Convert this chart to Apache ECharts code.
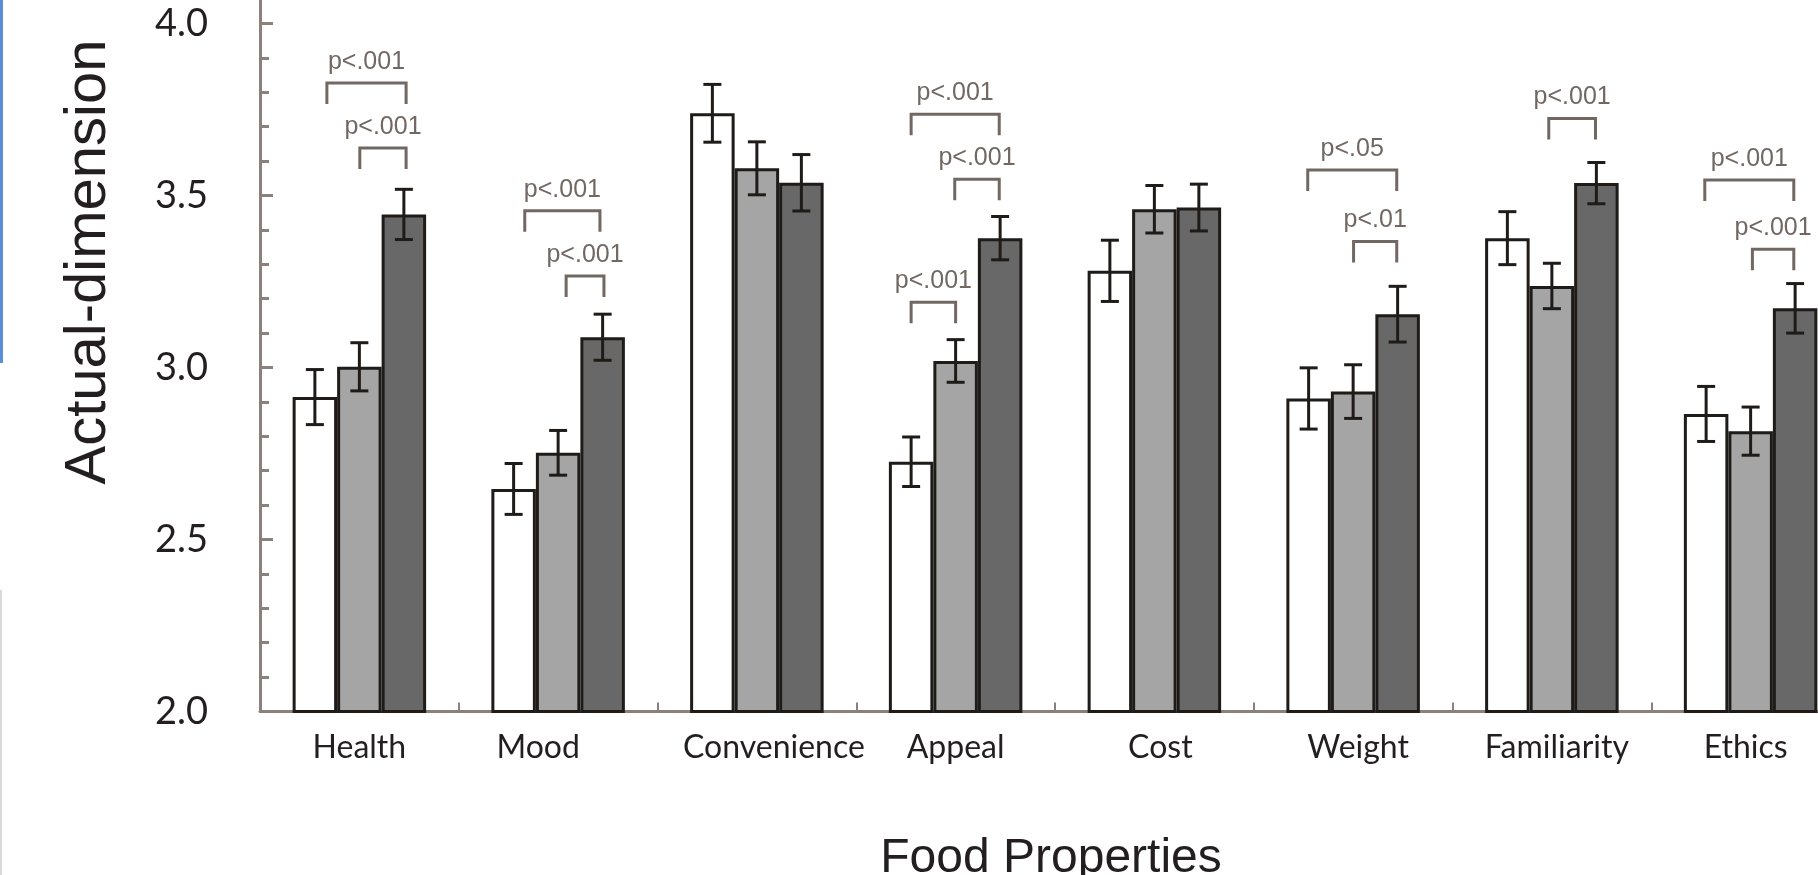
<!DOCTYPE html>
<html>
<head>
<meta charset="utf-8">
<script src="https://cdn.jsdelivr.net/npm/echarts@6/dist/echarts.min.js"></script>
<style>
html, body { margin: 0; padding: 0; background: #fff; overflow: hidden; width: 1818px; height: 875px; }
/* the plot runs past the right and top edges of the picture, so the canvas is bigger than the window */
#divChart { position: absolute; left: 0; top: -20px; width: 1880px; height: 895px; }
</style>
</head>
<body>
<div id="divChart"></div>
<script>
var categories = ['Health', 'Mood', 'Convenience', 'Appeal', 'Cost', 'Weight', 'Familiarity', 'Ethics'];

// three groups, left to right inside each category
var lowVals  = [2.914, 2.647, 3.739, 2.726, 3.281, 2.910, 3.376, 2.865];
var lowErr   = [0.080, 0.074, 0.084, 0.072, 0.089, 0.089, 0.077, 0.080];
var midVals  = [3.002, 2.752, 3.579, 3.019, 3.460, 2.930, 3.237, 2.815];
var midErr   = [0.070, 0.065, 0.077, 0.062, 0.069, 0.078, 0.066, 0.070];
var highVals = [3.445, 3.088, 3.537, 3.376, 3.465, 3.155, 3.536, 3.172];
var highErr  = [0.073, 0.067, 0.082, 0.063, 0.068, 0.081, 0.060, 0.072];

// significance brackets: category, from bar, to bar, height, text
var bracketCat  = [0, 0, 1, 1, 3, 3, 3, 5, 5, 6, 7, 7];
var bracketFrom = [0.27, 1.01, 0.25, 1.18, 0.0, 0.98, 0.0, -0.02, 1.01, 0.93, -0.03, 1.04];
var bracketTo   = [2.05, 2.05, 1.94, 2.03, 1.98, 1.98, 1.0, 1.98, 1.98, 1.98, 1.97, 1.97];
var bracketY    = [3.827, 3.638, 3.456, 3.266, 3.736, 3.547, 3.190, 3.574, 3.366, 3.724, 3.545, 3.344];
var bracketText = ['p<.001', 'p<.001', 'p<.001', 'p<.001', 'p<.001', 'p<.001', 'p<.001', 'p<.05', 'p<.01', 'p<.001', 'p<.001', 'p<.001'];

var SHIFT = 20;   // canvas starts 20px above the page
var BAR_W = 44.5;
var CAP = 9;
var INK = '#1e1b18';
var AXIS = '#8a807c';
var NOTE = '#716864';

// a couple of category labels sit off-centre in the original
var labelNudge = { 'Mood': -20, 'Convenience': 17, 'Cost': 6, 'Weight': 5, 'Familiarity': 5, 'Ethics': -5 };

var myChart = echarts.init(document.getElementById('divChart'));

function barSeries(name, vals, color) {
    return {
        name: name,
        type: 'bar',
        barWidth: BAR_W,
        barGap: '0%',
        data: vals,
        itemStyle: { color: color, borderColor: INK, borderWidth: 3 },
        emphasis: { disabled: true }
    };
}

function errorSeries(slot, vals, errs) {
    var data = [];
    for (var i = 0; i < vals.length; i++) {
        data.push([i, vals[i] - errs[i], vals[i] + errs[i]]);
    }
    return {
        type: 'custom',
        z: 5,
        encode: { x: 0, y: [1, 2] },
        data: data,
        renderItem: function (params, api) {
            var lo = api.coord([api.value(0), api.value(1)]);
            var hi = api.coord([api.value(0), api.value(2)]);
            var x = lo[0] + (slot - 1) * BAR_W;
            var st = { stroke: INK, lineWidth: 3 };
            return {
                type: 'group',
                children: [
                    { type: 'line', shape: { x1: x, y1: lo[1], x2: x, y2: hi[1] }, style: st },
                    { type: 'line', shape: { x1: x - CAP, y1: lo[1], x2: x + CAP, y2: lo[1] }, style: st },
                    { type: 'line', shape: { x1: x - CAP, y1: hi[1], x2: x + CAP, y2: hi[1] }, style: st }
                ]
            };
        }
    };
}

function bracketSeries() {
    var data = [];
    for (var i = 0; i < bracketCat.length; i++) {
        data.push([bracketCat[i], bracketY[i], bracketFrom[i], bracketTo[i], bracketText[i]]);
    }
    return {
        type: 'custom',
        z: 6,
        encode: { x: 0, y: 1 },
        data: data,
        renderItem: function (params, api) {
            var p = api.coord([api.value(0), api.value(1)]);
            var x1 = p[0] + (api.value(2) - 1) * BAR_W;
            var x2 = p[0] + (api.value(3) - 1) * BAR_W;
            var y = p[1];
            var st = { stroke: NOTE, lineWidth: 3, fill: null };
            return {
                type: 'group',
                children: [
                    { type: 'polyline', shape: { points: [[x1, y + 21], [x1, y], [x2, y], [x2, y + 21]] }, style: st },
                    {
                        type: 'text',
                        style: {
                            x: (x1 + x2) / 2, y: y - 21,
                            text: data[params.dataIndex][4],
                            fill: NOTE,
                            font: '25px "Liberation Sans", Arial, sans-serif',
                            align: 'center',
                            verticalAlign: 'middle'
                        }
                    }
                ]
            };
        }
    };
}

// padding on one side pushes the centred label over
var richStyles = {};
categories.forEach(function (c, i) {
    var d = labelNudge[c] || 0;
    if (d !== 0) {
        richStyles['n' + i] = {
            fontFamily: 'Lato', fontSize: 32, color: '#231f20',
            padding: d > 0 ? [0, 0, 0, 2 * d] : [0, -2 * d, 0, 0]
        };
    }
});

var option = {
    backgroundColor: '#ffffff',
    animation: false,
    grid: { left: 260, top: 9.1, width: 1590, height: 722.4, containLabel: false },
    xAxis: {
        type: 'category',
        data: categories,
        axisLine: { lineStyle: { color: AXIS, width: 3 } },
        axisTick: { show: true, inside: true, length: 9, lineStyle: { color: AXIS, width: 2 } },
        axisLabel: {
            interval: 0, margin: 20, fontFamily: 'Lato', fontSize: 32, color: '#231f20',
            formatter: function (v, i) {
                return labelNudge[v] ? '{n' + i + '|' + v + '}' : v;
            },
            rich: richStyles
        },
        splitLine: { show: false }
    },
    yAxis: [
        {
            type: 'value', min: 2, max: 4.1, interval: 0.5, position: 'left',
            axisLine: { show: true, lineStyle: { color: AXIS, width: 3 } },
            axisTick: { show: true, inside: true, length: 13, lineStyle: { color: AXIS, width: 3 } },
            axisLabel: {
                margin: 52, fontFamily: 'Lato', fontSize: 38, color: '#231f20', showMaxLabel: false,
                formatter: function (v) { return v.toFixed(1); }
            },
            splitLine: { show: false }
        },
        {
            type: 'value', min: 2, max: 4.1, interval: 0.1, position: 'left',
            axisLine: { show: false },
            axisTick: { show: true, inside: true, length: 9, lineStyle: { color: AXIS, width: 3 } },
            axisLabel: { show: false },
            splitLine: { show: false }
        }
    ],
    graphic: [
        {
            type: 'text', x: 89, y: 262 + SHIFT, rotation: Math.PI / 2,
            style: { text: 'Actual-dimension', font: '58px "Liberation Sans", Arial, sans-serif', fill: '#231f20', align: 'center', verticalAlign: 'middle' }
        },
        {
            type: 'text', x: 1051, y: 859 + SHIFT,
            style: { text: 'Food Properties', font: '48px "Liberation Sans", Arial, sans-serif', fill: '#231f20', align: 'center', verticalAlign: 'middle' }
        },
        { type: 'line', shape: { x1: 1.5, y1: 0, x2: 1.5, y2: 363 + SHIFT }, style: { stroke: '#5b8ed8', lineWidth: 3 } },
        { type: 'line', shape: { x1: 1, y1: 590 + SHIFT, x2: 1, y2: 895 }, style: { stroke: '#d9d9d9', lineWidth: 2 } }
    ],
    series: [
        barSeries('Low', lowVals, '#ffffff'),
        barSeries('Medium', midVals, '#a5a5a5'),
        barSeries('High', highVals, '#686868'),
        errorSeries(0, lowVals, lowErr),
        errorSeries(1, midVals, midErr),
        errorSeries(2, highVals, highErr),
        bracketSeries()
    ]
};

myChart.setOption(option);
</script>
</body>
</html>
